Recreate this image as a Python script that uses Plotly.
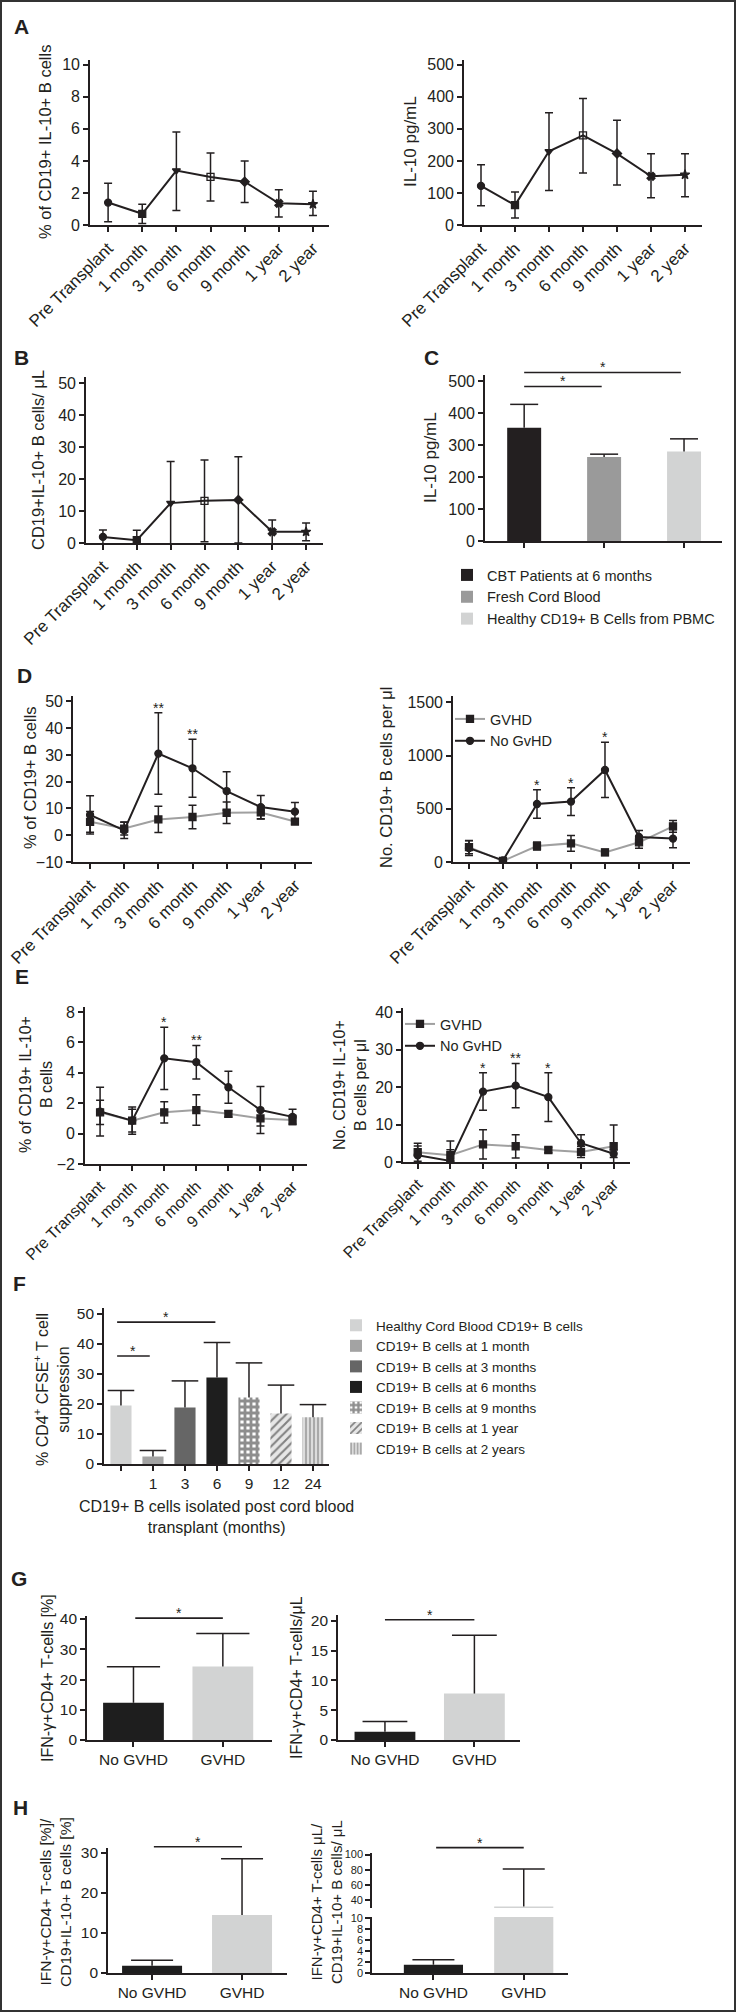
import plotly.graph_objects as go

W, H = 736, 2013
FONT = "Liberation Sans, Arial, Helvetica, sans-serif"
INK = "#231f20"
GVHD_LINE = "#a0a0a0"

# ---------------------------------------------------------------- data
timepoints = ["Pre Transplant", "1 month", "3 month", "6 month", "9 month", "1 year", "2 year"]
time_symbols = ["circle", "square", "triangle-down", "square-open", "diamond", "x", "star"]

# A (left): % of CD19+ IL-10+ B cells
a_pct_mean = [1.4, 0.7, 3.4, 3.0, 2.7, 1.35, 1.3]
a_pct_plus = [1.2, 0.6, 2.4, 1.5, 1.3, 0.85, 0.8]
a_pct_minus = [1.2, 0.6, 2.5, 1.5, 1.3, 0.85, 0.7]
# A (right): IL-10 pg/mL
a_il10_mean = [122, 62, 230, 280, 223, 152, 157]
a_il10_plus = [66, 41, 120, 115, 104, 70, 65]
a_il10_minus = [62, 40, 122, 118, 98, 67, 69]
# B: CD19+IL-10+ B cells / uL
b_count_mean = [1.9, 0.9, 12.5, 13.2, 13.5, 3.5, 3.5]
b_count_err = [2.2, 3.1, 13.0, 12.8, 13.5, 3.7, 2.8]
# C: IL-10 pg/mL by source
c_groups = ["CBT Patients at 6 months", "Fresh Cord Blood", "Healthy CD19+ B Cells from PBMC"]
c_il10 = [355, 263, 280]
c_il10_err = [73, 9, 40]
# D: GVHD vs no GvHD
d_pct_gvhd = [5.0, 2.5, 5.9, 6.8, 8.4, 8.5, 5.1]
d_pct_gvhd_err = [3.9, 2.4, 4.9, 4.4, 4.0, 2.4, 1.0]
d_pct_nogvhd = [7.6, 1.8, 30.5, 25.0, 16.5, 10.5, 8.8]
d_pct_nogvhd_err = [7.1, 3.0, 15.2, 10.8, 7.2, 4.3, 3.4]
d_pct_stars = ["", "", "**", "**", "", "", ""]
d_cnt_gvhd = [140, 10, 150, 175, 90, 185, 335]
d_cnt_gvhd_err = [62, 10, 38, 75, 30, 55, 55]
d_cnt_nogvhd = [130, 15, 545, 568, 865, 235, 220]
d_cnt_nogvhd_err = [70, 15, 135, 130, 260, 60, 85]
d_cnt_stars = ["", "", "*", "*", "*", "", ""]
# E: IL-10+ B cells, GVHD vs no GvHD
e_pct_gvhd = [1.4, 0.85, 1.4, 1.55, 1.3, 1.0, 0.9]
e_pct_gvhd_err = [0.8, 0.75, 0.7, 1.0, 0.2, 0.5, 0.3]
e_pct_nogvhd = [1.45, 0.85, 4.95, 4.7, 3.05, 1.55, 1.1]
e_pct_nogvhd_err = [1.6, 0.9, 2.05, 1.1, 1.05, 1.55, 0.5]
e_pct_stars = ["", "", "*", "**", "", "", ""]
e_cnt_gvhd = [2.6, 1.8, 4.7, 4.2, 3.2, 2.7, 4.2]
e_cnt_gvhd_err = [2.4, 1.5, 3.9, 3.1, 0.7, 1.5, 5.7]
e_cnt_nogvhd = [1.8, 0.3, 18.8, 20.4, 17.3, 5.0, 2.2]
e_cnt_nogvhd_err = [2.5, 5.3, 5.0, 5.9, 6.5, 2.3, 1.0]
e_cnt_stars = ["", "", "*", "**", "*", "", ""]
# F: suppression
f_groups = ["Healthy Cord Blood CD19+ B cells", "CD19+ B cells at 1 month", "CD19+ B cells at 3 months",
            "CD19+ B cells at 6 months", "CD19+ B cells at 9 months", "CD19+ B cells at 1 year",
            "CD19+ B cells at 2 years"]
f_ticks = ["1", "3", "6", "9", "12", "24"]
f_supp = [19.5, 2.5, 18.8, 28.8, 22.2, 16.8, 15.6]
f_supp_err = [5.0, 2.0, 8.9, 11.7, 11.5, 9.5, 4.2]
# G / H
gh_groups = ["No GVHD", "GVHD"]
g_pct = [12.3, 24.3]
g_pct_err = [11.9, 10.9]
g_cnt = [1.4, 7.8]
g_cnt_err = [1.7, 9.8]
h_ratio_pct = [1.8, 14.5]
h_ratio_pct_err = [1.4, 14.0]
h_ratio_cnt = [1.5, 32.0]
h_ratio_cnt_err = [0.9, 49.0]

# significance bars: (axis, x_from, x_to, y, label)
sig_bars = [(4, 0.0, 0.97, 484, "*"), (4, 0.0, 1.96, 528, "*"),
            (9, -0.12, 2.95, 47.3, "*"), (9, -0.12, 0.9, 36, "*"),
            (10, 0.02, 1.0, 40.3, "*"), (11, 0.0, 1.0, 20.2, "*"),
            (12, 0.02, 1.0, 31.5, "*"), (14, 0.03, 1.0, 109, "*")]

# ---------------------------------------------------------------- layout geometry (px)
GEOM = {
    1: dict(x=(90, 329), y=(60, 225), xr=(-0.53, 6.47), yr=(0, 10.3)),
    2: dict(x=(464, 702), y=(60, 225), xr=(-0.5, 6.5), yr=(0, 515)),
    3: dict(x=(86, 323), y=(377, 543), xr=(-0.5, 6.5), yr=(0, 52)),
    4: dict(x=(485, 722), y=(375, 541), xr=(-0.49, 2.475), yr=(0, 520)),
    5: dict(x=(73, 312), y=(696, 862), xr=(-0.5, 6.5), yr=(-10, 52)),
    6: dict(x=(453, 690), y=(696, 862), xr=(-0.47, 6.5), yr=(0, 1560)),
    7: dict(x=(85, 307), y=(1007, 1164), xr=(-0.47, 6.45), yr=(-2, 8.33)),
    8: dict(x=(403, 630), y=(1008, 1162), xr=(-0.45, 6.5), yr=(0, 41.1)),
    9: dict(x=(104, 329), y=(1308, 1464), xr=(-0.53, 6.5), yr=(0, 52)),
    10: dict(x=(87, 272), y=(1616, 1740), xr=(-0.52, 1.55), yr=(0, 41)),
    11: dict(x=(338, 520), y=(1615, 1740), xr=(-0.525, 1.51), yr=(0, 21)),
    12: dict(x=(108, 287), y=(1848, 1973), xr=(-0.49, 1.5), yr=(0, 31.2)),
    13: dict(x=(372, 568), y=(1917, 1973), xr=(-0.68, 1.49), yr=(0, 10.15)),
    14: dict(x=(372, 568), y=(1853, 1908), xr=(-0.68, 1.49), yr=(30, 102)),
}


def px_x(v):
    return v / W


def px_y(v):
    return 1 - v / H


def data_to_paper(n, xv, yv):
    g = GEOM[n]
    x0, x1 = g["x"]
    top, bot = g["y"]
    r0, r1 = g["xr"]
    s0, s1 = g["yr"]
    xp = x0 + (xv - r0) / (r1 - r0) * (x1 - x0)
    yp = bot - (yv - s0) / (s1 - s0) * (bot - top)
    return px_x(xp), px_y(yp)


def ids(n):
    if n == 14:
        return "x13", "y14"
    return ("x" if n == 1 else f"x{n}"), ("y" if n == 1 else f"y{n}")


fig = go.Figure()


def add_line(n, y, plus, minus, line_color, symbols, mcolor, name=None, legend="legend"):
    xa, ya = ids(n)
    fig.add_trace(go.Scatter(
        x=list(range(len(y))), y=y, xaxis=xa, yaxis=ya, mode="lines+markers",
        line=dict(color=line_color, width=2),
        marker=dict(symbol=symbols, size=7, color=mcolor, line=dict(color=mcolor, width=1.3)),
        error_y=dict(type="data", symmetric=False, array=plus, arrayminus=minus,
                     color=INK, thickness=1.5, width=4),
        name=name or "", showlegend=name is not None, legend=legend, hoverinfo="skip"))


def add_bars(n, ys, errs, colors, width, cap, names=None, patterns=None, legend="legend"):
    xa, ya = ids(n)
    xs = list(range(len(ys)))
    for i in xs:
        marker = dict(color=colors[i], line=dict(width=0))
        if patterns and patterns[i]:
            marker["pattern"] = patterns[i]
        fig.add_trace(go.Bar(
            x=[i], y=[ys[i]], width=width, xaxis=xa, yaxis=ya, marker=marker,
            error_y=dict(type="data", symmetric=False, array=[errs[i]], arrayminus=[0],
                         color=INK, thickness=1.5, width=0),
            name=names[i] if names else "", showlegend=bool(names), legend=legend, hoverinfo="skip"))
    fig.add_trace(go.Scatter(
        x=xs, y=[a + b for a, b in zip(ys, errs)], xaxis=xa, yaxis=ya, mode="markers",
        marker=dict(symbol="line-ew", size=cap, color=INK, line=dict(color=INK, width=1.5)),
        showlegend=False, hoverinfo="skip"))


# A
add_line(1, a_pct_mean, a_pct_plus, a_pct_minus, INK, time_symbols, INK)
add_line(2, a_il10_mean, a_il10_plus, a_il10_minus, INK, time_symbols, INK)
# B
add_line(3, b_count_mean, b_count_err, b_count_err, INK, time_symbols, INK)
# C
add_bars(4, c_il10, c_il10_err, ["#231f20", "#9a9a9a", "#d2d3d3"], 0.425, 20, names=c_groups, legend="legend")
# D
add_line(5, d_pct_gvhd, d_pct_gvhd_err, d_pct_gvhd_err, GVHD_LINE, "square", INK)
add_line(5, d_pct_nogvhd, d_pct_nogvhd_err, d_pct_nogvhd_err, INK, "circle", INK)
add_line(6, d_cnt_gvhd, d_cnt_gvhd_err, d_cnt_gvhd_err, GVHD_LINE, "square", INK, name="GVHD", legend="legend2")
add_line(6, d_cnt_nogvhd, d_cnt_nogvhd_err, d_cnt_nogvhd_err, INK, "circle", INK, name="No GvHD", legend="legend2")
# E
add_line(7, e_pct_gvhd, e_pct_gvhd_err, e_pct_gvhd_err, GVHD_LINE, "square", INK)
add_line(7, e_pct_nogvhd, e_pct_nogvhd_err, e_pct_nogvhd_err, INK, "circle", INK)
add_line(8, e_cnt_gvhd, e_cnt_gvhd_err, e_cnt_gvhd_err, GVHD_LINE, "square", INK, name="GVHD", legend="legend4")
add_line(8, e_cnt_nogvhd, e_cnt_nogvhd_err, e_cnt_nogvhd_err, INK, "circle", INK, name="No GvHD", legend="legend4")
# F
f_colors = ["#d2d3d3", "#a3a3a3", "#666666", "#1e1e1e", "#ffffff", "#e6e6e6", "#dcdcdc"]
f_patterns = [None, None, None, None,
              dict(shape="+", fgcolor="#1e1e1e", bgcolor="#ffffff", size=6, solidity=0.72),
              dict(shape="/", fgcolor="#1e1e1e", bgcolor="#e6e6e6", size=6, solidity=0.35),
              dict(shape="|", fgcolor="#6a6a6a", bgcolor="#dcdcdc", size=4, solidity=0.45)]
add_bars(9, f_supp, f_supp_err, f_colors, 0.66, 19, names=f_groups, patterns=f_patterns, legend="legend3")
# G
gh_colors = ["#1e1e1e", "#d2d3d3"]
add_bars(10, g_pct, g_pct_err, gh_colors, 0.68, 38)
add_bars(11, g_cnt, g_cnt_err, gh_colors, 0.68, 32)
# H
add_bars(12, h_ratio_pct, h_ratio_pct_err, gh_colors, 0.667, 30)
add_bars(13, h_ratio_cnt, h_ratio_cnt_err, gh_colors, 0.655, 30)
add_bars(14, h_ratio_cnt, h_ratio_cnt_err, gh_colors, 0.655, 30)

# ---------------------------------------------------------------- axes
AXIS = dict(showline=True, linecolor=INK, linewidth=1.6, ticks="outside", ticklen=5, tickwidth=1.5,
            tickcolor=INK, showgrid=False, zeroline=False, fixedrange=True, automargin=False,
            tickfont=dict(family=FONT, size=16, color=INK))
YTICKS = {1: dict(dtick=2), 2: dict(dtick=100), 3: dict(dtick=10), 4: dict(dtick=100),
          5: dict(tick0=-10, dtick=10), 6: dict(dtick=500), 7: dict(tick0=0, dtick=2), 8: dict(dtick=10),
          9: dict(dtick=10), 10: dict(dtick=10), 11: dict(dtick=5), 12: dict(dtick=10),
          13: dict(dtick=2, tickfont=dict(family=FONT, size=11, color=INK)),
          14: dict(tickmode="array", tickvals=[40, 60, 80, 100], tickfont=dict(family=FONT, size=11, color=INK))}

layout = {}
for n, g in GEOM.items():
    xa, ya = ids(n)
    xkey = "xaxis" + xa[1:]
    ykey = "yaxis" + ya[1:]
    ydom = [1 - g["y"][1] / H, 1 - g["y"][0] / H]
    yax = dict(AXIS)
    yax.update(domain=ydom, range=list(g["yr"]), anchor=xa)
    if n >= 9:
        yax.update(tickfont=dict(family=FONT, size=15.5, color=INK))
    yax.update(YTICKS[n])
    layout[ykey] = yax
    if n == 14:
        continue
    xax = dict(AXIS)
    xax.update(domain=[g["x"][0] / W, g["x"][1] / W], range=list(g["xr"]), anchor=ya)
    if n in (1, 2, 3, 5, 6, 7, 8):
        xax.update(tickmode="array", tickvals=list(range(7)), ticktext=timepoints, tickangle=-45,
                   tickfont=dict(family=FONT, size=17 if n < 7 else 16, color=INK))
    elif n == 4:
        xax.update(tickmode="array", tickvals=[0, 1, 2], showticklabels=False)
    elif n == 9:
        # category 0 (healthy cord blood) has a tick but no label
        xax.update(tickmode="array", tickvals=list(range(1, 7)), ticktext=f_ticks,
                   tickfont=dict(family=FONT, size=15.5, color=INK),
                   minor=dict(tickmode="array", tickvals=[0], ticks="outside", ticklen=5,
                              tickwidth=1.5, tickcolor=INK, showgrid=False))
    else:
        xax.update(tickmode="array", tickvals=[0, 1], ticktext=gh_groups,
                   tickfont=dict(family=FONT, size=15.5, color=INK))
    layout[xkey] = xax

annotations = []
shapes = []

# panel letters
for letter, x, y in [("A", 21, 27), ("B", 21, 357), ("C", 431, 357), ("D", 24, 675),
                     ("E", 22, 976), ("F", 19, 1283), ("G", 19, 1578), ("H", 20, 1807)]:
    annotations.append(dict(text=f"<b>{letter}</b>", x=px_x(x), y=px_y(y), xref="paper", yref="paper",
                            showarrow=False, xanchor="center", yanchor="middle",
                            font=dict(family=FONT, size=21, color=INK)))

# y-axis titles
ytitles = [
    (45, 142, "% of CD19+ IL-10+ B cells", 16.5),
    (411, 142, "IL-10 pg/mL", 17),
    (38, 460, "CD19+IL-10+ B cells/ μL", 16.5),
    (431, 458, "IL-10 pg/mL", 17),
    (30, 778, "% of CD19+ B cells", 16.5),
    (386, 778, "No. CD19+ B cells per μl", 16.5),
    (36, 1085, "% of CD19+ IL-10+<br>B cells", 16),
    (350, 1085, "No. CD19+ IL-10+<br>B cells per μl", 16),
    (51, 1390, "% CD4<sup>+</sup> CFSE<sup>+</sup> T cell<br>suppression", 16),
    (47, 1678, "IFN-γ+CD4+ T-cells [%]", 16),
    (296, 1678, "IFN-γ+CD4+ T-cells/μL", 16),
    (55, 1902, "IFN-γ+CD4+ T-cells [%]/<br>CD19+IL-10+ B cells [%]", 15.5),
    (326, 1902, "IFN-γ+CD4+ T-cells μL/<br>CD19+IL-10+ B cells/ μL", 15),
]
for x, y, t, s in ytitles:
    annotations.append(dict(text=t, x=px_x(x), y=px_y(y), xref="paper", yref="paper", textangle=-90,
                            showarrow=False, xanchor="center", yanchor="middle",
                            font=dict(family=FONT, size=s, color=INK)))

# F x-axis title
annotations.append(dict(text="CD19+ B cells isolated post cord blood<br>transplant (months)",
                        x=px_x(216), y=px_y(1517), xref="paper", yref="paper", showarrow=False,
                        xanchor="center", yanchor="middle", font=dict(family=FONT, size=16, color=INK)))


def star(n, xv, yv, text):
    xp, yp = data_to_paper(n, xv, yv)
    annotations.append(dict(text=text, x=xp, y=yp, xref="paper", yref="paper", showarrow=False,
                            xanchor="center", yanchor="bottom", yshift=-5,
                            font=dict(family=FONT, size=14, color=INK)))


for n, means, errs, stars in [(5, d_pct_nogvhd, d_pct_nogvhd_err, d_pct_stars),
                              (6, d_cnt_nogvhd, d_cnt_nogvhd_err, d_cnt_stars),
                              (7, e_pct_nogvhd, e_pct_nogvhd_err, e_pct_stars),
                              (8, e_cnt_nogvhd, e_cnt_nogvhd_err, e_cnt_stars)]:
    for i, s in enumerate(stars):
        if s:
            star(n, i, means[i] + errs[i], s)

for n, xa0, xa1, yv, lab in sig_bars:
    p0 = data_to_paper(n, xa0, yv)
    p1 = data_to_paper(n, xa1, yv)
    shapes.append(dict(type="line", xref="paper", yref="paper", x0=p0[0], x1=p1[0], y0=p0[1], y1=p1[1],
                       line=dict(color=INK, width=1.6)))
    star(n, (xa0 + xa1) / 2, yv, lab)

# outer frame
shapes.append(dict(type="rect", xref="paper", yref="paper", x0=px_x(1), x1=px_x(735), y0=px_y(2011), y1=px_y(1),
                   line=dict(color="#333333", width=2)))

LEG = dict(xanchor="left", yanchor="top", bgcolor="rgba(0,0,0,0)", borderwidth=0, tracegroupgap=0,
           traceorder="normal")
layout.update(
    width=W, height=H, margin=dict(l=0, r=0, t=0, b=0, pad=0, autoexpand=False),
    paper_bgcolor="white", plot_bgcolor="rgba(0,0,0,0)",
    font=dict(family=FONT, color=INK), barmode="overlay",
    annotations=annotations, shapes=shapes,
    legend=dict(LEG, x=px_x(447), y=px_y(559), font=dict(family=FONT, size=14.5, color=INK)),
    legend2=dict(LEG, x=px_x(450), y=px_y(703), font=dict(family=FONT, size=14.5, color=INK)),
    legend3=dict(LEG, x=px_x(336), y=px_y(1310), font=dict(family=FONT, size=13.5, color=INK)),
    legend4=dict(LEG, x=px_x(400), y=px_y(1008), font=dict(family=FONT, size=14.5, color=INK)),
)
fig.update_layout(**layout)

fig.write_html("out.html", config={"displayModeBar": False},
               post_script="document.body.style.margin='0';")
